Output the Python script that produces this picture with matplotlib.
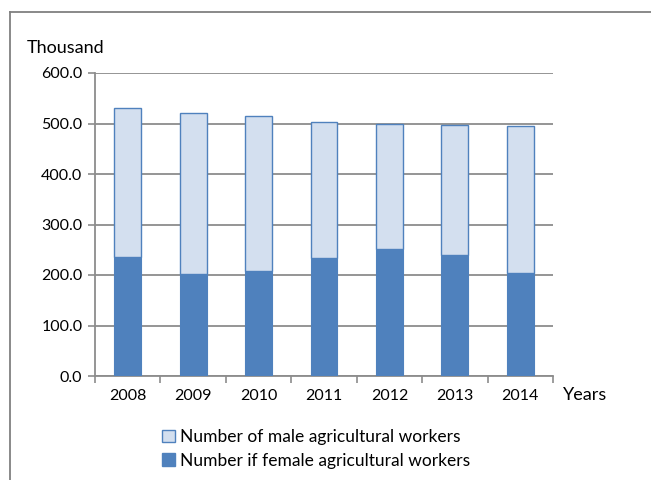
import matplotlib.pyplot as plt
import numpy as np
from matplotlib.patches import Patch
from matplotlib.lines import Line2D

# data (thousand workers)
years = ['2008', '2009', '2010', '2011', '2012', '2013', '2014']
total = [531, 521, 514, 503, 500, 497, 495]
female = [235, 202, 207, 233, 251, 239, 204]
male = [t - f for t, f in zip(total, female)]

plt.rcParams['font.family'] = ['Lato', 'DejaVu Sans']

fig = plt.figure(figsize=(6.51, 4.8), dpi=100)
ax = fig.add_axes([95 / 651, 104 / 480, 458 / 651, 303 / 480])

x = np.arange(len(years))
dark = '#4F81BD'
light = '#D3DFEF'
w = 0.41
ax.bar(x, female, width=w, color=dark, edgecolor=dark, linewidth=0.8, zorder=3)
ax.bar(x, male, width=w, bottom=female, color=light, edgecolor=dark,
       linewidth=1.0, zorder=3)

ax.set_xlim(-0.5, len(years) - 0.5)
ax.set_ylim(0, 600)
ax.set_yticks(np.arange(0, 601, 100))
ax.set_yticklabels([f'{v:.1f}' for v in range(0, 601, 100)])
ax.yaxis.grid(True, color='#8c8c8c', linewidth=1.3, zorder=0)
ax.set_axisbelow(True)

ax.set_xticks(x)
ax.set_xticklabels(years)
ax.set_xticks(np.arange(-0.5, len(years)), minor=True)
ax.tick_params(axis='x', which='major', length=0, pad=9, labelsize=11.5)
ax.tick_params(axis='x', which='minor', length=5, color='#8c8c8c', width=1.2)
ax.tick_params(axis='y', length=5, color='#8c8c8c', width=1.2, pad=4,
               labelsize=11.5)

for side in ['top', 'right']:
    ax.spines[side].set_visible(False)
for side in ['left', 'bottom']:
    ax.spines[side].set_color('#8c8c8c')
    ax.spines[side].set_linewidth(1.3)

fig.text(27 / 651, 1 - 48 / 480, 'Thousand', fontsize=13, va='center', ha='left')
fig.text(563 / 651, 1 - 395 / 480, 'Years', fontsize=13, va='center', ha='left')

handles = [Patch(facecolor=light, edgecolor=dark, linewidth=1.0),
           Patch(facecolor=dark, edgecolor=dark)]
labels = ['Number of male agricultural workers',
          'Number if female agricultural workers']
fig.legend(handles, labels, loc='center', bbox_to_anchor=(316 / 651, 1 - 449 / 480),
           frameon=False, fontsize=12.5, handlelength=0.75, handleheight=0.75,
           handletextpad=0.3, labelspacing=0.45)

# outer frame
fig.add_artist(Line2D([10 / 651, 10 / 651], [0, 1 - 12 / 480],
                      transform=fig.transFigure, color='#808080', lw=1.3))
fig.add_artist(Line2D([10 / 651, 1], [1 - 12 / 480, 1 - 12 / 480],
                      transform=fig.transFigure, color='#808080', lw=1.3))

fig.savefig('out.png', dpi=100)
